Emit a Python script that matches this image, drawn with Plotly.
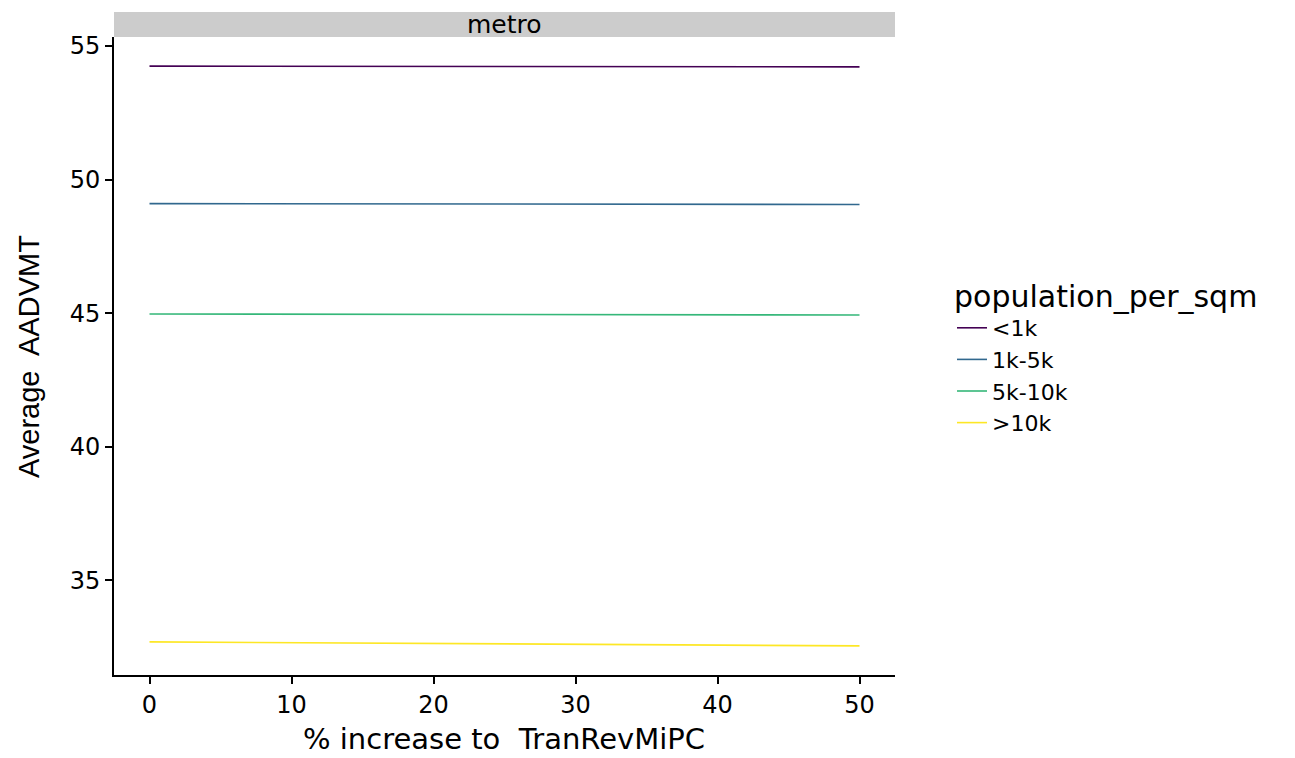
import plotly.graph_objects as go

x_vals = [0, 10, 20, 30, 40, 50]
groups = ["<1k", "1k-5k", "5k-10k", ">10k"]
y_lt1k = [54.25, 54.245, 54.24, 54.235, 54.23, 54.22]
y_1k5k = [49.10, 49.095, 49.09, 49.08, 49.075, 49.07]
y_5k10k = [44.97, 44.96, 44.955, 44.95, 44.94, 44.93]
y_gt10k = [32.69, 32.66, 32.63, 32.60, 32.57, 32.54]
series = [y_lt1k, y_1k5k, y_5k10k, y_gt10k]
colors = ["#440154", "#31688E", "#35B779", "#FDE725"]
x_ticks = [0, 10, 20, 30, 40, 50]
y_ticks = [35, 40, 45, 50, 55]

font = "DejaVu Sans, Liberation Sans, Arial, sans-serif"

fig = go.Figure()
for name, ys, c in zip(groups, series, colors):
    fig.add_trace(go.Scatter(x=x_vals, y=ys, mode="lines", name=name,
                             line=dict(color=c, width=1.6)))

L, R, T, B = 114, 400, 37, 83
W, H = 1295, 758
ph = H - T - B
pw = W - L - R

fig.update_layout(
    width=W, height=H,
    margin=dict(l=L, r=R, t=T, b=B),
    plot_bgcolor="white", paper_bgcolor="white",
    font=dict(family=font, color="black", size=24),
    showlegend=True,
    legend=dict(
        title=dict(text="population_per_sqm", font=dict(size=30, color="black")),
        x=1.073, xanchor="left", y=0.5, yanchor="middle",
        font=dict(size=22, color="black"),
        itemwidth=30,
    ),
    xaxis=dict(
        range=[-2.5, 52.5], tickvals=x_ticks, ticks="outside", ticklen=7,
        tickwidth=1.5, tickcolor="black", showline=True, linecolor="black",
        linewidth=2, showgrid=False, zeroline=False, automargin=False,
        tickfont=dict(size=24, color="black"),
    ),
    yaxis=dict(
        range=[31.45, 55.34], tickvals=y_ticks, ticks="outside", ticklen=7,
        tickwidth=1.5, tickcolor="black", showline=True, linecolor="black",
        linewidth=2, showgrid=False, zeroline=False, automargin=False,
        tickfont=dict(size=24, color="black"),
    ),
)

fig.add_annotation(text="% increase to  TranRevMiPC", xref="paper", yref="paper",
                   x=(504 - L) / pw, y=(H - B - 739) / ph,
                   showarrow=False, xanchor="center", yanchor="middle",
                   font=dict(size=29, color="black"))
fig.add_annotation(text="Average  AADVMT", xref="paper", yref="paper",
                   x=(29 - L) / pw, y=(H - B - 357) / ph, textangle=-90,
                   showarrow=False, xanchor="center", yanchor="middle",
                   font=dict(size=29, color="black", family="Liberation Sans, Arial, sans-serif"))

strip_h = 25 / ph
fig.add_shape(type="rect", xref="paper", yref="paper", x0=0, x1=1, y0=1, y1=1 + strip_h,
              fillcolor="#CCCCCC", line=dict(width=0), layer="below")
fig.add_annotation(text="metro", xref="paper", yref="paper", x=0.5, y=1 + strip_h / 2,
                   showarrow=False, font=dict(size=25, color="black"), yanchor="middle")

fig.write_html("out.html")
